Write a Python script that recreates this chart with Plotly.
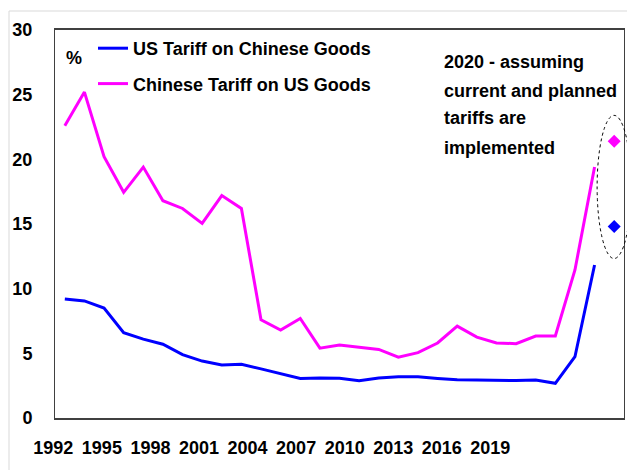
import plotly.graph_objects as go

years = list(range(1992, 2020))
us_on_china = [9.2, 9.05, 8.5, 6.6, 6.1, 5.7, 4.9, 4.4, 4.1, 4.15, 3.8, 3.45, 3.05,
               3.1, 3.08, 2.88, 3.1, 3.18, 3.18, 3.05, 2.95, 2.93, 2.9, 2.9, 2.94,
               2.68, 4.74, 11.83]
china_on_us = [22.6, 25.2, 20.2, 17.45, 19.4, 16.8, 16.2, 15.05, 17.2, 16.2, 7.6, 6.8,
               7.7, 5.4, 5.65, 5.5, 5.3, 4.7, 5.05, 5.8, 7.1, 6.25, 5.8, 5.75, 6.34,
               6.34, 11.45, 19.4]
year_2020 = [2020]
us_2020 = [14.8]
china_2020 = [21.4]
x_tick_years = list(range(1992, 2020, 3))
y_tick_vals = [0, 5, 10, 15, 20, 25, 30]
note_lines = ["2020 - assuming", "current and planned", "tariffs are", "implemented"]

BLUE = "#0000FF"
MAGENTA = "#FF00FF"
FONT = "Liberation Sans, Arial, sans-serif"
bold = dict(family=FONT, size=18, color="black", weight="bold")

fig = go.Figure()
fig.add_trace(go.Scatter(x=years, y=us_on_china, mode="lines", name="US Tariff on Chinese Goods",
                         line=dict(color=BLUE, width=3), legendgroup="a"))
fig.add_trace(go.Scatter(x=years, y=china_on_us, mode="lines", name="Chinese Tariff on US Goods",
                         line=dict(color=MAGENTA, width=3), legendgroup="b"))
fig.add_trace(go.Scatter(x=year_2020, y=china_2020, mode="markers", showlegend=False,
                         marker=dict(symbol="diamond", size=10, color=MAGENTA)))
fig.add_trace(go.Scatter(x=year_2020, y=us_2020, mode="markers", showlegend=False,
                         marker=dict(symbol="diamond", size=10, color=BLUE)))
# empty trace hosting the separate tick-label axis
fig.add_trace(go.Scatter(x=[None], y=[None], xaxis="x2", yaxis="y", showlegend=False,
                         hoverinfo="skip", mode="markers"))

# page body adds an 8px margin; screen coords = figure coords + OFF
OFF = 8
W, H = 627, 462
L, R, T, B = 12, 11, 22, 52
pw = W - L - R
ph = H - T - B
X_RANGE = [1991.5, 2020.5]
Y_RANGE = [0, 30]


def sx(px):  # screen x px -> paper fraction
    return (px - OFF - L) / pw


def sy(py):  # screen y px -> paper fraction
    return 1 - (py - OFF - T) / ph


fig.update_layout(
    width=W, height=H,
    margin=dict(l=L, r=R, t=T, b=B, pad=0),
    paper_bgcolor="white", plot_bgcolor="rgba(0,0,0,0)",
    showlegend=True,
    legend=dict(x=sx(93), y=1.0, xanchor="left", yanchor="top",
                font=bold, bgcolor="rgba(0,0,0,0)", traceorder="grouped",
                tracegroupgap=9, borderwidth=0),
    xaxis=dict(domain=[sx(55), 1], range=X_RANGE, showticklabels=False,
               ticks="", showgrid=False, zeroline=False, showline=True,
               linecolor="#404040", linewidth=2, mirror=True, automargin=False),
    xaxis2=dict(domain=[0, 1], anchor="y",
                range=[1992 - (53.3 - OFF - L) / 16.187, 1992 + (W - R - (53.3 - OFF)) / 16.187],
                tickvals=x_tick_years, ticktext=[str(v) for v in x_tick_years],
                tickfont=bold, ticks="", showgrid=False, zeroline=False, showline=False,
                ticklabelstandoff=17, automargin=False),
    yaxis=dict(range=Y_RANGE, tickvals=y_tick_vals, tickfont=bold, ticks="",
               showgrid=False, zeroline=False, showline=True, linecolor="#404040",
               linewidth=1, mirror=True, ticklabelstandoff=18, automargin=False),
)

fig.add_annotation(x=1992.47, y=27.8, xref="x", yref="y", text="%", showarrow=False,
                   font=bold)
note_y = [27.5, 25.3, 23.2, 20.9]
for t, yy in zip(note_lines, note_y):
    fig.add_annotation(x=2011.2, y=yy, xref="x", yref="y", text=t, showarrow=False,
                       xanchor="left", font=bold)


def xd(v):
    return (v - X_RANGE[0]) / (X_RANGE[1] - X_RANGE[0])


def yd(v):
    return (v - Y_RANGE[0]) / (Y_RANGE[1] - Y_RANGE[0])


# dashed ellipse around the 2020 points (domain refs so it is not clipped)
fig.add_shape(type="circle", xref="x domain", yref="y domain",
              x0=xd(2019.13), x1=xd(2020.86), y0=yd(12.33), y1=yd(23.4),
              line=dict(color="black", width=1, dash="dot"))
# light chart-area border
fig.add_shape(type="rect", xref="paper", yref="paper", x0=sx(9), x1=1.2,
              y0=-0.5, y1=sy(11), line=dict(color="#d9d9d9", width=1),
              layer="below")

fig.write_html("out.html")
